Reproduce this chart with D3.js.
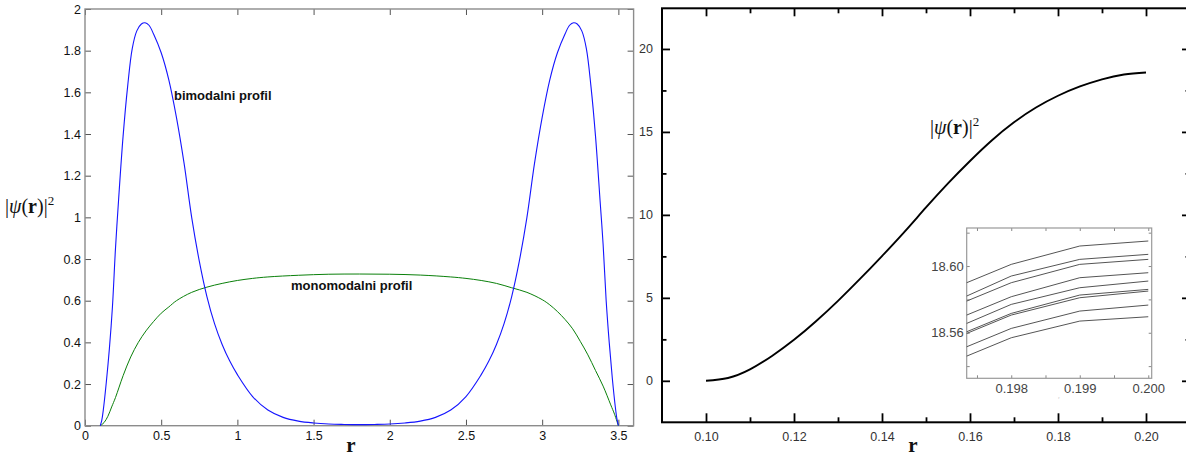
<!DOCTYPE html>
<html>
<head>
<meta charset="utf-8">
<script src="https://cdn.jsdelivr.net/npm/d3@7/dist/d3.min.js"></script>
<style>
  html, body { margin: 0; padding: 0; background: #fff; }
  svg { display: block; }
</style>
</head>
<body>
<svg id="chart" width="1186" height="459"></svg>
<script>
// ---------- left panel: bimodal vs monomodal radial profiles ----------
const bimodalR = [0.10, 0.11, 0.12, 0.14, 0.16, 0.18, 0.20, 0.22, 0.25, 0.28, 0.31, 0.34, 0.37, 0.394, 0.42, 0.45, 0.50, 0.55, 0.60, 0.65, 0.70, 0.75, 0.80, 0.85, 0.90, 0.95, 1.00, 1.10, 1.20, 1.30, 1.40, 1.50, 1.60, 1.70, 1.80, 1.90, 2.00, 2.10, 2.20, 2.30, 2.40, 2.50, 2.60, 2.65, 2.70, 2.75, 2.80, 2.85, 2.90, 2.95, 3.00, 3.05, 3.10, 3.15, 3.18, 3.206, 3.23, 3.26, 3.29, 3.32, 3.35, 3.38, 3.40, 3.42, 3.44, 3.46, 3.48, 3.49, 3.50];
const bimodalV = [0, 0.025, 0.075, 0.21, 0.37, 0.57, 0.85, 1.08, 1.39, 1.63, 1.81, 1.895, 1.928, 1.934, 1.922, 1.88, 1.79, 1.66, 1.48, 1.26, 1.0, 0.79, 0.62, 0.49, 0.39, 0.31, 0.245, 0.14, 0.075, 0.04, 0.022, 0.013, 0.008, 0.006, 0.005, 0.006, 0.008, 0.013, 0.022, 0.04, 0.075, 0.14, 0.245, 0.31, 0.39, 0.49, 0.62, 0.79, 1.0, 1.26, 1.48, 1.66, 1.79, 1.88, 1.922, 1.934, 1.928, 1.895, 1.81, 1.63, 1.39, 1.08, 0.87, 0.6, 0.4, 0.23, 0.09, 0.035, 0];

const monoR = [0.10, 0.125, 0.15, 0.175, 0.20, 0.25, 0.30, 0.35, 0.40, 0.45, 0.50, 0.55, 0.60, 0.70, 0.80, 0.90, 1.00, 1.10, 1.20, 1.40, 1.60, 1.80, 2.00, 2.20, 2.40, 2.50, 2.60, 2.70, 2.80, 2.90, 3.00, 3.05, 3.10, 3.15, 3.20, 3.25, 3.30, 3.35, 3.40, 3.45, 3.475, 3.50];
const monoV = [0, 0.015, 0.045, 0.09, 0.135, 0.24, 0.33, 0.40, 0.455, 0.50, 0.54, 0.57, 0.60, 0.64, 0.665, 0.683, 0.697, 0.707, 0.714, 0.722, 0.727, 0.728, 0.727, 0.723, 0.714, 0.707, 0.697, 0.683, 0.662, 0.64, 0.605, 0.58, 0.548, 0.51, 0.465, 0.405, 0.34, 0.265, 0.19, 0.10, 0.055, 0];

const leftXTicks = [0, 0.5, 1, 1.5, 2, 2.5, 3, 3.5];
const leftYTicks = [0, 0.2, 0.4, 0.6, 0.8, 1, 1.2, 1.4, 1.6, 1.8, 2];

// ---------- right panel: single profile near the outer edge ----------
const outerR = [0.100, 0.105, 0.110, 0.115, 0.120, 0.125, 0.130, 0.135, 0.140, 0.145, 0.150, 0.155, 0.160, 0.165, 0.170, 0.175, 0.180, 0.185, 0.190, 0.195, 0.200];
const outerV = [0, 0.17, 0.69, 1.5, 2.47, 3.59, 4.82, 6.14, 7.52, 8.95, 10.45, 11.9, 13.25, 14.5, 15.58, 16.47, 17.18, 17.74, 18.17, 18.46, 18.58];

const rightXMajor = [0.10, 0.12, 0.14, 0.16, 0.18, 0.20];
const rightXMinor = [0.11, 0.13, 0.15, 0.17, 0.19];
const rightYMajor = [0, 5, 10, 15, 20];
const rightYMinor = [2.5, 7.5, 12.5, 17.5];

// ---------- inset: last few samples of nine runs ----------
const insetR = [0.19735, 0.198, 0.199, 0.200];
const insetRuns = [
  [18.590, 18.601, 18.612, 18.615],
  [18.582, 18.594, 18.604, 18.607],
  [18.579, 18.590, 18.601, 18.604],
  [18.5706, 18.5816, 18.593, 18.596],
  [18.5656, 18.577, 18.587, 18.591],
  [18.5606, 18.5716, 18.5826, 18.586],
  [18.5596, 18.5706, 18.581, 18.585],
  [18.5516, 18.5626, 18.573, 18.5766],
  [18.546, 18.557, 18.567, 18.5696]
];
const insetXTicks = [0.1975, 0.198, 0.1985, 0.199, 0.1995, 0.200];
const insetXLabels = [0.198, 0.199, 0.200];
const insetYTicks = [18.54, 18.56, 18.58, 18.60, 18.62];
const insetYLabels = [18.56, 18.60];

const svg = d3.select("#chart");
svg.append("rect").attr("width", 1186).attr("height", 459).attr("fill", "#fff");

const SANS = "'Liberation Sans', Arial, sans-serif";
const SERIF = "'Liberation Serif', 'Times New Roman', serif";

function styleAxis(g, color, width, fontSize, textColor) {
  g.select(".domain").remove();
  g.selectAll(".tick line").attr("stroke", color).attr("stroke-width", width);
  g.selectAll(".tick text").attr("font-family", SANS).attr("font-size", fontSize).attr("fill", textColor);
}

function mathLabel(parent, x, y) {
  const t = parent.append("text").attr("x", x).attr("y", y)
    .attr("font-family", SERIF).attr("font-size", 20).attr("fill", "#111");
  t.append("tspan").text("|");
  t.append("tspan").attr("font-style", "italic").text("ψ");
  t.append("tspan").text("(");
  t.append("tspan").attr("font-weight", "bold").text("r");
  t.append("tspan").text(")|");
  t.append("tspan").attr("font-size", 13).attr("dy", -8).text("2");
  return t;
}

// ===== left panel =====
const xL = d3.scaleLinear().domain([0, 3.6]).range([85, 633.6]);
const yL = d3.scaleLinear().domain([0, 2]).range([425.7, 9]);
const fmtL = d => String(+d.toFixed(1));
const left = svg.append("g");

left.append("g").attr("transform", `translate(0,${yL(0)})`)
  .call(d3.axisBottom(xL).tickValues(leftXTicks).tickFormat(fmtL).tickSize(-6).tickPadding(5))
  .call(g => styleAxis(g, "#555", 1, 12.5, "#111"));
left.append("g").attr("transform", `translate(0,${yL(2)})`)
  .call(d3.axisTop(xL).tickValues(leftXTicks).tickFormat("").tickSize(-6))
  .call(g => styleAxis(g, "#555", 1, 12, "#111"));
left.append("g").attr("transform", `translate(${xL(0)},0)`)
  .call(d3.axisLeft(yL).tickValues(leftYTicks).tickFormat(fmtL).tickSize(-6).tickPadding(4))
  .call(g => styleAxis(g, "#555", 1, 12.5, "#111"));
left.append("g").attr("transform", `translate(${xL(3.6)},0)`)
  .call(d3.axisRight(yL).tickValues(leftYTicks).tickFormat("").tickSize(-6))
  .call(g => styleAxis(g, "#555", 1, 12, "#111"));

left.append("rect")
  .attr("x", xL(0)).attr("y", yL(2))
  .attr("width", xL(3.6) - xL(0)).attr("height", yL(0) - yL(2))
  .attr("fill", "none").attr("stroke", "#8c8c8c").attr("stroke-width", 1.4);

const lineL = d3.line().x(d => xL(d[0])).y(d => yL(d[1])).curve(d3.curveCatmullRom.alpha(0.5));
left.append("path").datum(d3.zip(monoR, monoV)).attr("d", lineL)
  .attr("fill", "none").attr("stroke", "#0a800a").attr("stroke-width", 1);
left.append("path").datum(d3.zip(bimodalR, bimodalV)).attr("d", lineL)
  .attr("fill", "none").attr("stroke", "#1515ff").attr("stroke-width", 1.1);

left.append("text").attr("x", 174).attr("y", 100)
  .attr("font-family", SANS).attr("font-weight", "bold").attr("font-size", 13).attr("fill", "#111")
  .text("bimodalni profil");
left.append("text").attr("x", 291).attr("y", 290)
  .attr("font-family", SANS).attr("font-weight", "bold").attr("font-size", 13).attr("fill", "#111")
  .text("monomodalni profil");

left.append("text").attr("x", 351).attr("y", 452).attr("text-anchor", "middle")
  .attr("font-family", SERIF).attr("font-weight", "bold").attr("font-size", 21).attr("fill", "#111").text("r");
mathLabel(left, 5, 213);

// ===== right panel =====
const xR = d3.scaleLinear().domain([0.09, 0.21]).range([662, 1190]);
const yR = d3.scaleLinear().domain([-2.5, 22.45]).range([422.3, 8.3]);
const right = svg.append("g");
const fmtR = d3.format(".2f");

// minor ticks
right.append("g").attr("transform", `translate(0,${yR(-2.5)})`)
  .call(d3.axisBottom(xR).tickValues(rightXMinor).tickFormat("").tickSize(-5))
  .call(g => styleAxis(g, "#000", 1.8, 12, "#333"));
right.append("g").attr("transform", `translate(0,${yR(22.45)})`)
  .call(d3.axisTop(xR).tickValues(rightXMinor).tickFormat("").tickSize(-5))
  .call(g => styleAxis(g, "#000", 1.8, 12, "#333"));
right.append("g").attr("transform", `translate(${xR(0.09)},0)`)
  .call(d3.axisLeft(yR).tickValues(rightYMinor).tickFormat("").tickSize(-4.5))
  .call(g => styleAxis(g, "#000", 1.8, 12, "#333"));
right.append("g").attr("transform", `translate(${xR(0.21)},0)`)
  .call(d3.axisRight(yR).tickValues(rightYMinor).tickFormat("").tickSize(-4.5))
  .call(g => styleAxis(g, "#000", 1.8, 12, "#333"));
// major ticks with labels
right.append("g").attr("transform", `translate(0,${yR(-2.5)})`)
  .call(d3.axisBottom(xR).tickValues(rightXMajor).tickFormat(fmtR).tickSize(-9).tickPadding(10))
  .call(g => styleAxis(g, "#000", 1.8, 12.5, "#333"));
right.append("g").attr("transform", `translate(0,${yR(22.45)})`)
  .call(d3.axisTop(xR).tickValues(rightXMajor).tickFormat("").tickSize(-8))
  .call(g => styleAxis(g, "#000", 1.8, 12, "#333"));
right.append("g").attr("transform", `translate(${xR(0.09)},0)`)
  .call(d3.axisLeft(yR).tickValues(rightYMajor).tickFormat(d3.format("d")).tickSize(-8).tickPadding(9))
  .call(g => styleAxis(g, "#000", 1.8, 12.5, "#333"));
right.append("g").attr("transform", `translate(${xR(0.21)},0)`)
  .call(d3.axisRight(yR).tickValues(rightYMajor).tickFormat("").tickSize(-8))
  .call(g => styleAxis(g, "#000", 1.8, 12, "#333"));

right.append("rect")
  .attr("x", xR(0.09)).attr("y", yR(22.45))
  .attr("width", xR(0.21) - xR(0.09)).attr("height", yR(-2.5) - yR(22.45))
  .attr("fill", "none").attr("stroke", "#000").attr("stroke-width", 2);

const lineR = d3.line().x(d => xR(d[0])).y(d => yR(d[1])).curve(d3.curveNatural);
right.append("path").datum(d3.zip(outerR, outerV)).attr("d", lineR)
  .attr("fill", "none").attr("stroke", "#000").attr("stroke-width", 1.9);

right.append("text").attr("x", 913).attr("y", 452).attr("text-anchor", "middle")
  .attr("font-family", SERIF).attr("font-weight", "bold").attr("font-size", 21).attr("fill", "#111").text("r");
mathLabel(right, 930, 134);

// ===== inset =====
const xI = d3.scaleLinear().domain([0.19735, 0.20005]).range([966.7, 1151.7]);
const yI = d3.scaleLinear().domain([18.5327, 18.6228]).range([378.3, 228]);
const inset = svg.append("g");
inset.append("rect")
  .attr("x", xI.range()[0]).attr("y", yI.range()[1])
  .attr("width", xI.range()[1] - xI.range()[0]).attr("height", yI.range()[0] - yI.range()[1])
  .attr("fill", "#fff");

inset.append("g").attr("transform", `translate(0,${yI.range()[0]})`)
  .call(d3.axisBottom(xI).tickValues(insetXTicks).tickFormat("").tickSize(-3))
  .call(g => styleAxis(g, "#888", 1, 12, "#444"));
inset.append("g").attr("transform", `translate(0,${yI.range()[0]})`)
  .call(d3.axisBottom(xI).tickValues(insetXLabels).tickFormat(d3.format(".3f")).tickSize(0).tickPadding(5))
  .call(g => styleAxis(g, "#888", 1, 13, "#444"));
inset.append("g").attr("transform", `translate(0,${yI.range()[1]})`)
  .call(d3.axisTop(xI).tickValues(insetXTicks).tickFormat("").tickSize(-3))
  .call(g => styleAxis(g, "#888", 1, 12, "#444"));
inset.append("g").attr("transform", `translate(${xI.range()[0]},0)`)
  .call(d3.axisLeft(yI).tickValues(insetYTicks).tickFormat("").tickSize(-3))
  .call(g => styleAxis(g, "#888", 1, 12, "#444"));
inset.append("g").attr("transform", `translate(${xI.range()[0]},0)`)
  .call(d3.axisLeft(yI).tickValues(insetYLabels).tickFormat(d3.format(".2f")).tickSize(0).tickPadding(3))
  .call(g => styleAxis(g, "#888", 1, 13, "#444"));
inset.append("g").attr("transform", `translate(${xI.range()[1]},0)`)
  .call(d3.axisRight(yI).tickValues(insetYTicks).tickFormat("").tickSize(-3))
  .call(g => styleAxis(g, "#888", 1, 12, "#444"));

inset.append("rect")
  .attr("x", xI.range()[0]).attr("y", yI.range()[1])
  .attr("width", xI.range()[1] - xI.range()[0]).attr("height", yI.range()[0] - yI.range()[1])
  .attr("fill", "none").attr("stroke", "#999").attr("stroke-width", 1.2);

const lineI = d3.line().x(d => xI(d[0])).y(d => yI(d[1]));
inset.selectAll("path.run").data(insetRuns).join("path").attr("class", "run")
  .attr("d", vals => lineI(d3.zip(insetR, vals)))
  .attr("fill", "none").attr("stroke", "#555").attr("stroke-width", 1);

inset.append("text").attr("x", 1059).attr("y", 399).attr("text-anchor", "middle")
  .attr("font-family", SERIF).attr("font-size", 4).attr("fill", "#bbb").text("r");
</script>
</body>
</html>
